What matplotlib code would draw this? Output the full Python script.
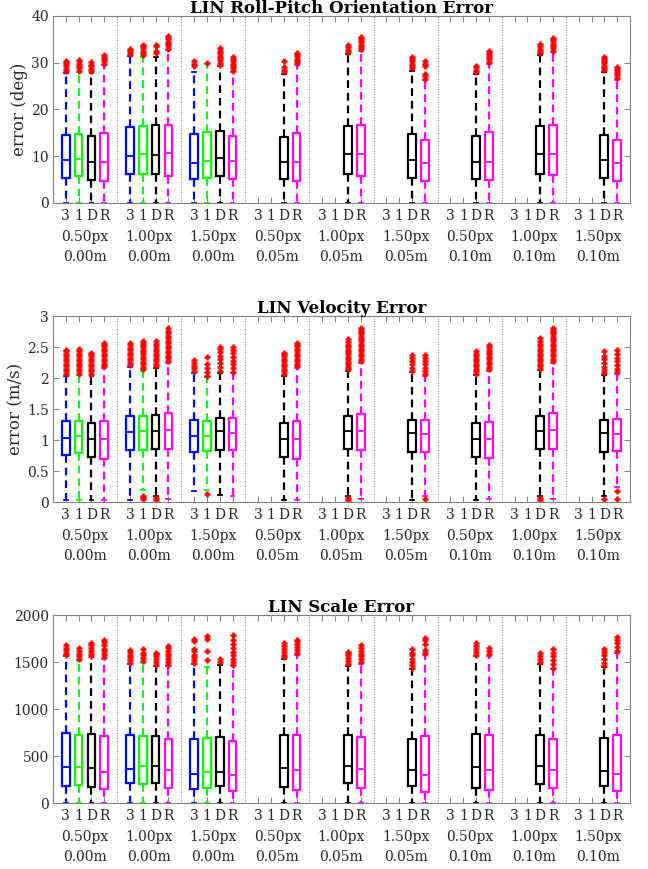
"""Grouped box plots of LIN orientation, velocity and scale errors."""

import matplotlib

matplotlib.use("Agg")
import matplotlib.pyplot as plt

plt.rcParams["font.family"] = ["DejaVu Serif"]

GROUP_PX = ["0.50px", "1.00px", "1.50px", "0.50px", "1.00px", "1.50px", "0.50px", "1.00px", "1.50px"]
GROUP_M = ["0.00m", "0.00m", "0.00m", "0.05m", "0.05m", "0.05m", "0.10m", "0.10m", "0.10m"]
METHOD_LABELS = ["3", "1", "D", "R"]
METHOD_COLORS = ["#0000ff", "#00ff00", "#000000", "#ff00ff"]

# group / method index of every box that is present
BOX_GROUPS = [0, 0, 0, 0, 1, 1, 1, 1, 2, 2, 2, 2, 3, 3, 4, 4, 5, 5, 6, 6, 7, 7, 8, 8]
BOX_METHODS = [0, 1, 2, 3, 0, 1, 2, 3, 0, 1, 2, 3, 2, 3, 2, 3, 2, 3, 2, 3, 2, 3, 2, 3]

# --- roll-pitch orientation error (deg)
ROT_Q1 = [5.3, 5.7, 5.0, 4.8, 6.1, 6.2, 6.3, 5.7, 5.1, 5.3, 5.8, 5.1,
          5.1, 4.8, 6.2, 5.8, 5.3, 4.6, 5.1, 5.0, 6.3, 5.9, 5.3, 4.6]
ROT_MED = [9.1, 9.4, 8.8, 8.8, 10.1, 10.5, 10.3, 10.7, 8.5, 9.0, 9.7, 9.0,
           8.8, 8.8, 10.4, 10.5, 9.2, 8.6, 8.8, 8.8, 10.4, 10.5, 9.3, 8.6]
ROT_Q3 = [14.6, 14.8, 14.4, 14.9, 16.2, 16.4, 16.7, 16.7, 14.7, 15.2, 15.3, 14.3,
          14.2, 14.9, 16.5, 16.6, 14.7, 13.5, 14.4, 15.1, 16.5, 16.6, 14.6, 13.5]
ROT_LO = [0.0] * 24
ROT_HI = [27.8, 28.0, 27.8, 29.5, 31.5, 31.3, 31.2, 32.7, 28.0, 29.8, 29.2, 28.1,
          27.6, 29.6, 31.8, 32.6, 28.2, 26.3, 27.6, 29.8, 31.6, 32.4, 28.0, 26.4]
ROT_FLIERS = [
    [28.2, 28.7, 29.2, 29.7, 30.1, 30.4],
    [28.3, 28.8, 29.3, 29.8, 30.3, 30.6],
    [28.2, 28.7, 29.2, 29.6, 30.2],
    [29.8, 30.3, 30.8, 31.3, 31.7],
    [31.8, 32.3, 32.8, 33.0],
    [31.6, 32.1, 32.6, 33.1, 33.5, 33.7],
    [32.0, 32.6, 33.5, 33.8],
    [33.0, 33.5, 34.0, 34.5, 35.0, 35.4, 35.7],
    [29.3, 29.8, 30.3],
    [30.0],
    [29.5, 30.0, 30.5, 31.0, 31.5, 32.0, 32.6, 33.2],
    [28.3, 28.8, 29.3, 29.8, 30.3, 30.8, 31.3],
    [28.0, 28.5, 29.0, 30.3],
    [29.9, 30.4, 30.9, 31.4, 31.8, 32.0],
    [32.2, 32.7, 33.3, 33.8],
    [32.9, 33.4, 33.9, 34.4, 34.9, 35.3, 35.6],
    [28.8, 29.3, 29.8, 30.3, 30.8, 31.2],
    [26.6, 27.1, 27.6, 29.2, 29.8, 30.4],
    [28.0, 28.5, 29.0, 29.2],
    [30.2, 30.7, 31.2, 31.7, 32.1, 32.5],
    [32.0, 32.5, 33.0, 33.5, 34.0],
    [32.6, 33.1, 33.6, 34.1, 34.6, 35.0, 35.3],
    [28.4, 28.9, 29.4, 29.9, 30.4, 30.9, 31.3],
    [26.8, 27.3, 27.8, 28.3, 28.7, 29.1],
]

# --- velocity error (m/s)
VEL_Q1 = [0.76, 0.79, 0.72, 0.70, 0.84, 0.84, 0.86, 0.85, 0.81, 0.82, 0.84, 0.84,
          0.72, 0.69, 0.85, 0.84, 0.80, 0.81, 0.73, 0.71, 0.85, 0.85, 0.81, 0.82]
VEL_MED = [1.03, 1.07, 1.01, 1.01, 1.13, 1.14, 1.15, 1.16, 1.06, 1.06, 1.15, 1.12,
           1.02, 1.02, 1.15, 1.15, 1.12, 1.09, 1.01, 1.02, 1.15, 1.16, 1.12, 1.09]
VEL_Q3 = [1.30, 1.31, 1.28, 1.31, 1.39, 1.38, 1.40, 1.43, 1.32, 1.31, 1.36, 1.36,
          1.28, 1.30, 1.39, 1.42, 1.33, 1.32, 1.28, 1.29, 1.39, 1.43, 1.32, 1.34]
VEL_LO = [0.03, 0.04, 0.03, 0.04, 0.04, 0.20, 0.10, 0.05, 0.17, 0.20, 0.12, 0.10,
          0.03, 0.04, 0.09, 0.05, 0.03, 0.10, 0.03, 0.05, 0.09, 0.05, 0.09, 0.25]
VEL_HI = [2.04, 2.05, 2.04, 2.17, 2.18, 2.12, 2.16, 2.25, 2.08, 2.01, 2.08, 2.08,
          2.04, 2.17, 2.12, 2.25, 2.09, 2.04, 2.05, 2.12, 2.13, 2.25, 2.05, 2.06]
VEL_FLIERS = [
    [2.07, 2.11, 2.15, 2.19, 2.23, 2.27, 2.31, 2.35, 2.39, 2.43, 2.45],
    [2.07, 2.11, 2.15, 2.19, 2.23, 2.27, 2.31, 2.35, 2.39, 2.43, 2.47],
    [2.07, 2.11, 2.15, 2.19, 2.23, 2.27, 2.31, 2.35, 2.39, 2.41],
    [2.19, 2.23, 2.27, 2.31, 2.35, 2.39, 2.43, 2.47, 2.51, 2.54, 2.56],
    [2.21, 2.25, 2.29, 2.33, 2.37, 2.41, 2.45, 2.49, 2.53, 2.56],
    [0.05, 0.08, 0.10, 2.14, 2.18, 2.22, 2.26, 2.30, 2.34, 2.38, 2.42, 2.46, 2.50, 2.54, 2.57, 2.60],
    [0.04, 0.06, 2.19, 2.23, 2.27, 2.31, 2.35, 2.39, 2.43, 2.47, 2.51, 2.55, 2.59],
    [2.28, 2.32, 2.36, 2.40, 2.44, 2.48, 2.52, 2.56, 2.60, 2.64, 2.68, 2.72, 2.76, 2.80],
    [2.12, 2.16, 2.20, 2.25, 2.29],
    [0.13, 2.04, 2.10, 2.16, 2.22, 2.34],
    [2.12, 2.18, 2.24, 2.30, 2.36, 2.42, 2.47, 2.50],
    [2.10, 2.16, 2.22, 2.28, 2.34, 2.40, 2.46, 2.50],
    [2.07, 2.11, 2.15, 2.19, 2.23, 2.27, 2.31, 2.35, 2.38, 2.40],
    [2.19, 2.23, 2.27, 2.31, 2.35, 2.39, 2.43, 2.47, 2.51, 2.54, 2.56],
    [0.04, 0.06, 2.14, 2.18, 2.22, 2.26, 2.30, 2.34, 2.38, 2.42, 2.46, 2.50, 2.54, 2.58, 2.63],
    [2.27, 2.31, 2.35, 2.39, 2.43, 2.47, 2.51, 2.55, 2.59, 2.63, 2.67, 2.71, 2.75, 2.78, 2.81],
    [2.12, 2.17, 2.22, 2.27, 2.32, 2.37],
    [0.05, 2.06, 2.11, 2.16, 2.22, 2.27, 2.32, 2.37],
    [2.07, 2.11, 2.15, 2.19, 2.23, 2.27, 2.31, 2.35, 2.39, 2.43],
    [2.14, 2.18, 2.22, 2.26, 2.30, 2.34, 2.38, 2.42, 2.46, 2.50, 2.54],
    [0.04, 0.06, 2.15, 2.19, 2.23, 2.27, 2.31, 2.35, 2.39, 2.43, 2.47, 2.51, 2.55, 2.59, 2.64],
    [2.27, 2.31, 2.35, 2.39, 2.43, 2.47, 2.51, 2.55, 2.59, 2.63, 2.67, 2.71, 2.75, 2.78, 2.81],
    [0.05, 2.08, 2.13, 2.18, 2.24, 2.30, 2.36, 2.44],
    [0.05, 0.17, 2.09, 2.15, 2.21, 2.27, 2.33, 2.39, 2.46],
]

# --- scale error
SCALE_Q1 = [181, 195, 170, 146, 213, 199, 213, 160, 153, 160, 178, 128,
            170, 142, 213, 163, 178, 121, 163, 142, 206, 163, 178, 124]
SCALE_MED = [384, 384, 373, 330, 366, 394, 398, 348, 305, 334, 330, 295,
             373, 348, 394, 359, 348, 295, 384, 355, 394, 348, 341, 313]
SCALE_Q3 = [746, 728, 739, 714, 721, 714, 714, 686, 682, 689, 703, 661,
            725, 725, 721, 700, 686, 710, 732, 721, 721, 679, 693, 721]
SCALE_LO = [0] * 24
SCALE_HI = [1560, 1510, 1550, 1530, 1480, 1490, 1460, 1460, 1480, 1450, 1470, 1460,
            1530, 1580, 1460, 1480, 1430, 1580, 1560, 1560, 1480, 1430, 1450, 1600]
SCALE_FLIERS = [
    [1570, 1600, 1630, 1655, 1680],
    [1530, 1560, 1590, 1620, 1650],
    [1560, 1590, 1620, 1650, 1680, 1700],
    [1550, 1590, 1620, 1640, 1680, 1710, 1740],
    [1490, 1520, 1550, 1580, 1610, 1630],
    [1510, 1540, 1570, 1600, 1640],
    [1470, 1500, 1530, 1560, 1590, 1600],
    [1470, 1500, 1530, 1560, 1590, 1620, 1650, 1670],
    [1490, 1520, 1550, 1580, 1620, 1640, 1720, 1750],
    [1520, 1620, 1750, 1780],
    [1500, 1530],
    [1470, 1500, 1530, 1570, 1610, 1650, 1690, 1730, 1790],
    [1550, 1580, 1610, 1640, 1670, 1700],
    [1600, 1630, 1660, 1690, 1720, 1740],
    [1480, 1510, 1540, 1570, 1600, 1610],
    [1500, 1530, 1560, 1590, 1620, 1650, 1680],
    [1440, 1470, 1500, 1530, 1570, 1600, 1640],
    [1600, 1630, 1690, 1730, 1760],
    [1580, 1610, 1640, 1670, 1700],
    [1590, 1620, 1650],
    [1500, 1530, 1560, 1600],
    [1440, 1480, 1520, 1560, 1600, 1640],
    [1460, 1490, 1530, 1570, 1610, 1640],
    [1620, 1660, 1700, 1740, 1770],
]

TEXT_COLOR = "#262626"
AXIS_COLOR = "#808080"


def slot_position(group, method):
    return group * 5 + method + 1


def draw_panel(ax, q1, med, q3, lo, hi, fliers, title, ylabel, ylim, yticks):
    for g, m, a, b, c, d, e, f in zip(BOX_GROUPS, BOX_METHODS, q1, med, q3, lo, hi, fliers):
        color = METHOD_COLORS[m]
        stats = [dict(q1=a, med=b, q3=c, whislo=d, whishi=e, fliers=f)]
        ax.bxp(
            stats,
            positions=[slot_position(g, m)],
            widths=0.6,
            capwidths=0.3,
            manage_ticks=False,
            boxprops=dict(color=color, linewidth=1.6),
            medianprops=dict(color=color, linewidth=1.3),
            whiskerprops=dict(color=color, linewidth=1.6, linestyle=(0, (3.5, 2.2))),
            capprops=dict(color=color, linewidth=1.3),
            flierprops=dict(marker="+", markeredgecolor="red", markersize=5,
                            markeredgewidth=1.8, linestyle="none"),
        )

    for sep in range(5, 45, 5):
        ax.axvline(sep, color=AXIS_COLOR, linestyle=":", linewidth=0.7, zorder=0)

    ax.set_xlim(0, 45)
    ax.set_ylim(*ylim)
    ax.set_yticks(yticks)
    ax.set_yticklabels([f"{t:g}" for t in yticks])

    ticks = [slot_position(g, m) for g in range(9) for m in range(4)]
    ax.set_xticks(ticks)
    ax.set_xticklabels(METHOD_LABELS * 9)
    ax.tick_params(direction="in", length=4, width=0.7, color=AXIS_COLOR,
                   labelcolor=TEXT_COLOR, labelsize=10, top=True, right=True, pad=3)
    ax.tick_params(axis="x", pad=4)
    for spine in ax.spines.values():
        spine.set_color(AXIS_COLOR)
        spine.set_linewidth(0.8)

    for g in range(9):
        x = g * 5 + 2.5
        ax.annotate(GROUP_PX[g], xy=(x, 0), xycoords=("data", "axes fraction"),
                    xytext=(0, -24.5), textcoords="offset points",
                    ha="center", va="center", fontsize=10, color=TEXT_COLOR)
        ax.annotate(GROUP_M[g], xy=(x, 0), xycoords=("data", "axes fraction"),
                    xytext=(0, -39), textcoords="offset points",
                    ha="center", va="center", fontsize=10, color=TEXT_COLOR)

    ax.set_title(title, fontsize=12, fontweight="bold", color="black", pad=2)
    if ylabel:
        ax.set_ylabel(ylabel, fontsize=12, color=TEXT_COLOR, labelpad=2)


def main():
    fig = plt.figure(figsize=(6.48, 8.69), dpi=100)
    left, width = 0.0818, 0.8904
    ax_rot = fig.add_axes([left, 0.7664, width, 0.2152])
    ax_vel = fig.add_axes([left, 0.4223, width, 0.2140])
    ax_scale = fig.add_axes([left, 0.0759, width, 0.2163])

    draw_panel(ax_rot, ROT_Q1, ROT_MED, ROT_Q3, ROT_LO, ROT_HI, ROT_FLIERS,
               "LIN Roll-Pitch Orientation Error", "error (deg)", (0, 40), [0, 10, 20, 30, 40])
    draw_panel(ax_vel, VEL_Q1, VEL_MED, VEL_Q3, VEL_LO, VEL_HI, VEL_FLIERS,
               "LIN Velocity Error", "error (m/s)", (0, 3), [0, 0.5, 1, 1.5, 2, 2.5, 3])
    draw_panel(ax_scale, SCALE_Q1, SCALE_MED, SCALE_Q3, SCALE_LO, SCALE_HI, SCALE_FLIERS,
               "LIN Scale Error", None, (0, 2000), [0, 500, 1000, 1500, 2000])

    fig.savefig("out.png", dpi=100)
    plt.close(fig)


if __name__ == "__main__":
    main()
